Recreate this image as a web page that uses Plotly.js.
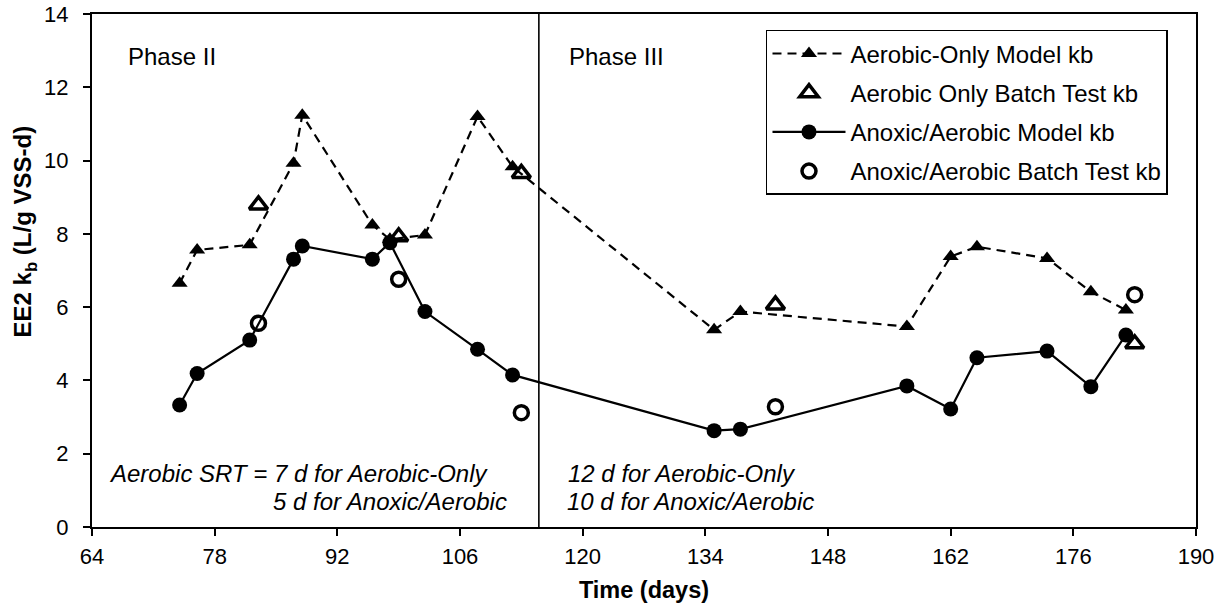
<!DOCTYPE html>
<html>
<head>
<meta charset="utf-8">
<script src="https://cdn.plot.ly/plotly-3.0.1.min.js"></script>
<style>
  html, body { margin: 0; padding: 0; background: #fff; }
  #chart { width: 1225px; height: 606px; }
</style>
</head>
<body>
<div id="chart"></div>
<script>
// EE2 biodegradation rate constant (kb) over time, Phase II and Phase III
var aeroModelDays = [74, 76, 82, 87, 88, 96, 98, 102, 108, 112, 135, 138, 157, 162, 165, 173, 178, 182];
var aeroModelKb   = [6.65, 7.56, 7.70, 9.93, 11.24, 8.24, 7.85, 7.97, 11.2, 9.83, 5.38, 5.88, 5.47, 7.38, 7.65, 7.33, 6.42, 5.92];

var aeroBatchDays = [83, 99, 113, 142, 183];
var aeroBatchKb   = [8.79, 7.92, 9.65, 6.06, 5.0];

var anoxModelDays = [74, 76, 82, 87, 88, 96, 98, 102, 108, 112, 135, 138, 157, 162, 165, 173, 178, 182];
var anoxModelKb   = [3.33, 4.19, 5.10, 7.31, 7.67, 7.31, 7.76, 5.88, 4.85, 4.15, 2.63, 2.67, 3.85, 3.22, 4.62, 4.80, 3.83, 5.24];

var anoxBatchDays = [83, 99, 113, 142, 183];
var anoxBatchKb   = [5.56, 6.76, 3.12, 3.28, 6.34];

var seriesNames = [
  'Aerobic-Only Model kb',
  'Aerobic Only Batch Test kb',
  'Anoxic/Aerobic Model kb',
  'Anoxic/Aerobic Batch Test kb'
];

var phaseBoundaryDay = 115;

var FONT = 'Liberation Sans, Arial, Helvetica, sans-serif';

var traces = [
  {
    x: aeroModelDays, y: aeroModelKb, name: seriesNames[0], legendgroup: 'a',
    type: 'scatter', mode: 'lines+markers',
    line: { color: '#000', width: 2.2, dash: '9px,6px' },
    marker: { symbol: 'triangle-up', size: 14, color: '#000' }
  },
  {
    x: aeroBatchDays, y: aeroBatchKb, name: seriesNames[1], legendgroup: 'b',
    type: 'scatter', mode: 'markers',
    marker: { symbol: 'triangle-up-open', size: 16, color: '#000', line: { color: '#000', width: 3.5 } }
  },
  {
    x: anoxModelDays, y: anoxModelKb, name: seriesNames[2], legendgroup: 'c',
    type: 'scatter', mode: 'lines+markers',
    line: { color: '#000', width: 2.2 },
    marker: { symbol: 'circle', size: 15, color: '#000' }
  },
  {
    x: anoxBatchDays, y: anoxBatchKb, name: seriesNames[3], legendgroup: 'd',
    type: 'scatter', mode: 'markers',
    marker: { symbol: 'circle-open', size: 14, color: '#000', line: { color: '#000', width: 3.5 } }
  }
];

function note(text, x, y, italic) {
  return {
    text: text, x: x, y: y, xref: 'x', yref: 'y',
    xanchor: 'left', yanchor: 'middle', showarrow: false,
    font: { family: FONT, size: 24, color: '#000', style: italic ? 'italic' : 'normal' }
  };
}

var layout = {
  width: 1225, height: 606,
  margin: { l: 92, r: 29, t: 14, b: 79 },
  paper_bgcolor: '#fff', plot_bgcolor: '#fff',
  font: { family: FONT, color: '#000' },
  showlegend: true,
  legend: {
    x: 0.6105, y: 0.969, xanchor: 'left', yanchor: 'top',
    bgcolor: '#fff', bordercolor: '#000', borderwidth: 1.5,
    font: { family: FONT, size: 24, color: '#000' },
    itemwidth: 73, tracegroupgap: 5, traceorder: 'grouped'
  },
  xaxis: {
    range: [64, 190], tick0: 64, dtick: 14,
    showgrid: false, zeroline: false,
    showline: true, linecolor: '#000', linewidth: 2, mirror: true,
    ticks: 'outside', ticklen: 7, tickwidth: 2, tickcolor: '#000',
    ticklabelstandoff: 2,
    tickfont: { family: FONT, size: 22, color: '#000' },
    title: { text: '<b>Time (days)</b>', font: { family: FONT, size: 23.5, color: '#000' }, standoff: 13 }
  },
  yaxis: {
    range: [0, 14], tick0: 0, dtick: 2,
    showgrid: false, zeroline: false,
    showline: true, linecolor: '#000', linewidth: 2, mirror: true,
    ticks: 'outside', ticklen: 7, tickwidth: 2, tickcolor: '#000',
    ticklabelstandoff: 10,
    tickfont: { family: FONT, size: 22, color: '#000' }
  },
  shapes: [
    {
      type: 'line', xref: 'x', yref: 'y',
      x0: phaseBoundaryDay, x1: phaseBoundaryDay, y0: 0, y1: 14,
      line: { color: '#000', width: 1.6 }
    }
  ],
  annotations: [
    {
      text: '<b>EE2 k<sub>b</sub> (L/g VSS-d)</b>',
      xref: 'paper', yref: 'paper', x: -0.0607, y: 0.576,
      xanchor: 'center', yanchor: 'middle', textangle: -90, showarrow: false,
      font: { family: FONT, size: 24, color: '#000' }
    },
    note('Phase II', 67.9, 12.83, false),
    note('Phase III', 118.25, 12.83, false),
    note('Aerobic SRT = 7 d for Aerobic-Only', 65.75, 1.47, true),
    note('5 d for Anoxic/Aerobic', 84.4, 0.69, true),
    note('12 d for Aerobic-Only', 118.15, 1.47, true),
    note('10 d for Anoxic/Aerobic', 117.95, 0.69, true)
  ]
};

Plotly.newPlot('chart', traces, layout, { staticPlot: true, displayModeBar: false });
</script>
</body>
</html>
